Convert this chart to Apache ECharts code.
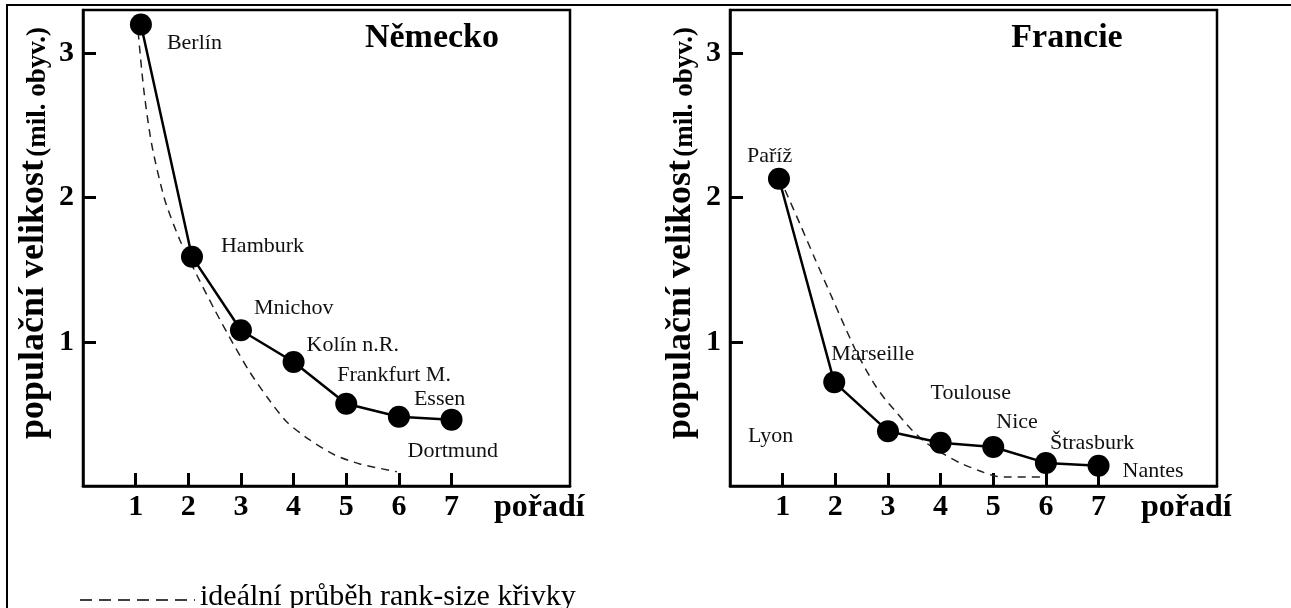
<!DOCTYPE html>
<html><head><meta charset="utf-8">
<script src="https://cdn.jsdelivr.net/npm/echarts@6/dist/echarts.min.js"></script>
<style>html,body{margin:0;padding:0;background:#fff}#c{width:1291px;height:608px}</style>
</head><body><div id="c"></div>
<script>
// ---- data ----
const germanyCities = ['Berlín', 'Hamburk', 'Mnichov', 'Kolín n.R.', 'Frankfurt M.', 'Essen', 'Dortmund'];
const germanyRank = [1.1, 2.07, 3, 4, 5, 6, 7];
const germanyPop = [3.20, 1.59, 1.08, 0.86, 0.57, 0.48, 0.46];
const germanyIdealRank = [1.047, 1.155, 1.307, 1.554, 1.839, 2.161, 2.503, 2.845, 3.168, 3.51, 3.871, 4.308, 4.783, 5.258, 5.961];
const germanyIdealPop = [3.15, 2.745, 2.364, 1.983, 1.706, 1.463, 1.22, 0.991, 0.79, 0.61, 0.444, 0.319, 0.215, 0.153, 0.099];

const franceCities = ['Paříž', 'Marseille', 'Lyon', 'Toulouse', 'Nice', 'Štrasburk', 'Nantes'];
const franceRank = [0.93, 1.98, 3, 4, 5, 6, 7];
const francePop = [2.13, 0.72, 0.38, 0.30, 0.27, 0.16, 0.14];
const franceIdealRank = [1.045, 1.33, 1.615, 1.899, 2.184, 2.374, 2.564, 2.754, 2.944, 3.172, 3.419, 3.704, 3.989, 4.368, 4.748, 5.033, 5.318, 5.983];
const franceIdealPop = [2.052, 1.816, 1.574, 1.338, 1.102, 0.95, 0.818, 0.70, 0.603, 0.506, 0.402, 0.305, 0.236, 0.16, 0.104, 0.069, 0.062, 0.062];

const xTicks = [1, 2, 3, 4, 5, 6, 7];
const yTicks = [1, 2, 3];
const titles = ['Německo', 'Francie'];
const xName = 'pořadí';
const yNameMain = 'populační velikost';
const yNameUnit = '(mil. obyv.)';
const legendText = 'ideální průběh rank-size křivky';

// ---- label placement (styling, px offsets from point centre) ----
const germanyLabelOffset = [[26, 19], [29, -10], [13, -22], [13, -17], [-9, -29], [15, -18], [-44, 32]];
const franceLabelOffset = [[-32, -23], [-3, -28], [-140, 5], [-10, -50], [3, -25], [4, -20], [24, 5]];

const SERIF = '"Liberation Serif", "DejaVu Serif", serif';

function xAxisCfg(gi) {
  return {
    type: 'value', gridIndex: gi, min: 0, max: 9.25,
    axisLine: { show: true, lineStyle: { color: '#000', width: 2.5 } },
    axisTick: { show: true, inside: true, length: 13, customValues: xTicks, lineStyle: { color: '#000', width: 3 } },
    axisLabel: { customValues: xTicks, fontFamily: SERIF, fontWeight: 'bold', fontSize: 30, color: '#000', margin: 6 },
    splitLine: { show: false }
  };
}
function yAxisCfg(gi) {
  return {
    type: 'value', gridIndex: gi, min: 0, max: 3.3,
    axisLine: { show: true, onZero: false, lineStyle: { color: '#000', width: 2.5 } },
    axisTick: { show: true, inside: true, length: 13, customValues: yTicks, lineStyle: { color: '#000', width: 3 } },
    axisLabel: { customValues: yTicks, fontFamily: SERIF, fontWeight: 'bold', fontSize: 30, color: '#000', margin: 9 },
    splitLine: { show: false }
  };
}
function pointSeries(gi, ranks, pops, names, offsets) {
  return {
    type: 'line', xAxisIndex: gi, yAxisIndex: gi, z: 3,
    symbol: 'circle', symbolSize: 22,
    itemStyle: { color: '#000' },
    lineStyle: { color: '#000', width: 2.5 },
    label: { show: true, position: 'inside', align: 'left', verticalAlign: 'middle',
      formatter: p => p.name, fontFamily: SERIF, fontSize: 22, color: '#111' },
    data: ranks.map((x, i) => ({ value: [x, pops[i]], name: names[i], label: { offset: offsets[i] } }))
  };
}
function idealSeries(gi, ranks, pops) {
  return {
    type: 'line', xAxisIndex: gi, yAxisIndex: gi, z: 2, name: legendText,
    symbol: 'none', smooth: 0.25,
    lineStyle: { color: '#222', width: 1.5, type: [8, 6] },
    data: ranks.map((x, i) => [x, pops[i]])
  };
}
function txt(x, y, text, size, weight, align, extra) {
  return Object.assign({ type: 'text', x: x, y: y, z: 10,
    style: { text: text, fontFamily: SERIF, fontSize: size, fontWeight: weight, fill: '#000',
      align: align, textAlign: align, verticalAlign: 'middle', textVerticalAlign: 'middle' } }, extra || {});
}
function yName(x, y) {
  return { type: 'text', x: x, y: y, rotation: Math.PI / 2, z: 10,
    style: { text: '{a|' + yNameMain + '} {b|(mil. obyv.)}'.replace('(mil. obyv.)', yNameUnit),
      rich: {
        a: { fontFamily: SERIF, fontSize: 36, fontWeight: 'bold', fill: '#000', verticalAlign: 'bottom' },
        b: { fontFamily: SERIF, fontSize: 27, fontWeight: 'bold', fill: '#000', verticalAlign: 'bottom' }
      },
      fill: '#000', align: 'center', textAlign: 'center', verticalAlign: 'bottom', textVerticalAlign: 'bottom' } };
}

const chart = echarts.init(document.getElementById('c'), null, { renderer: 'canvas' });
chart.setOption({
  backgroundColor: '#fff',
  animation: false,
  grid: [
    { left: 83, top: 10, width: 487, height: 476, show: true, borderColor: '#000', borderWidth: 2.5, backgroundColor: 'transparent' },
    { left: 730, top: 10, width: 487, height: 476, show: true, borderColor: '#000', borderWidth: 2.5, backgroundColor: 'transparent' }
  ],
  xAxis: [xAxisCfg(0), xAxisCfg(1)],
  yAxis: [yAxisCfg(0), yAxisCfg(1)],
  series: [
    idealSeries(0, germanyIdealRank, germanyIdealPop),
    pointSeries(0, germanyRank, germanyPop, germanyCities, germanyLabelOffset),
    idealSeries(1, franceIdealRank, franceIdealPop),
    pointSeries(1, franceRank, francePop, franceCities, franceLabelOffset)
  ],
  graphic: [
    { type: 'rect', shape: { x: 7, y: 5, width: 1400, height: 800 }, style: { fill: 'none', stroke: '#000', lineWidth: 2 }, z: 0 },
    txt(432, 38, titles[0], 34, 'bold', 'center'),
    txt(1067, 38, titles[1], 34, 'bold', 'center'),
    txt(494, 508, xName, 32, 'bold', 'left'),
    txt(1141, 508, xName, 32, 'bold', 'left'),
    yName(52, 233),
    yName(699, 233),
    { type: 'line', shape: { x1: 80, y1: 600, x2: 195, y2: 600 }, style: { stroke: '#000', lineWidth: 1.5, lineDash: [12, 7] }, z: 10 },
    txt(200, 597, legendText, 30, 'normal', 'left')
  ]
});
</script></body></html>
